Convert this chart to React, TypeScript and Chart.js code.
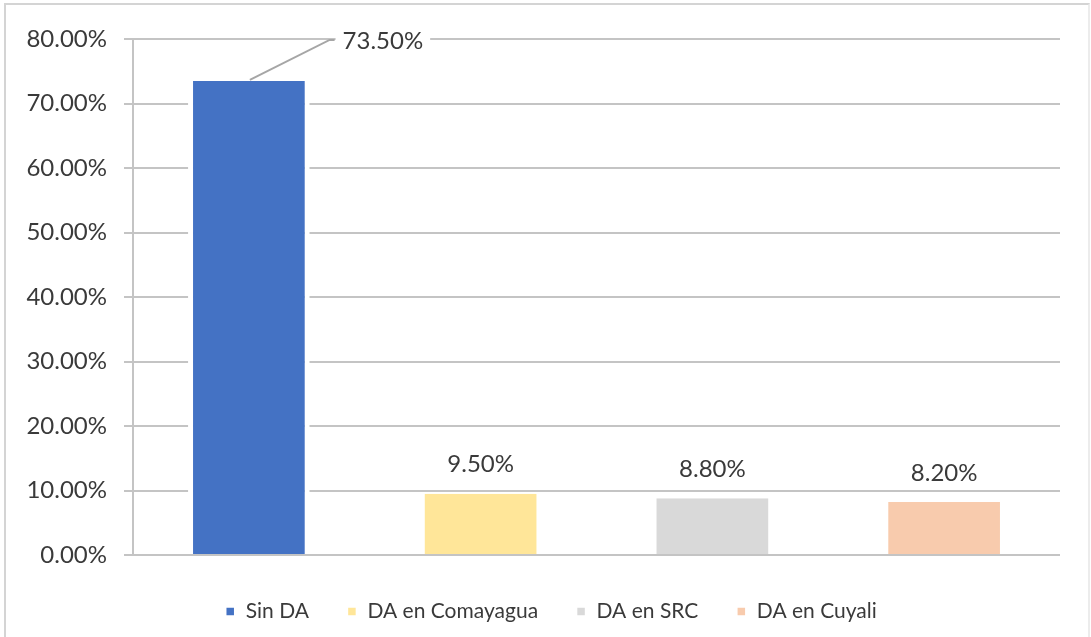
import React, { useEffect, useRef } from 'react';
import { Chart, registerables } from 'chart.js';

Chart.register(...registerables);

const categories = ['Sin DA', 'DA en Comayagua', 'DA en SRC', 'DA en Cuyali'];
const values = [73.5, 9.5, 8.8, 8.2];
const colors = ['#4472C4', '#FFE699', '#D9D9D9', '#F8CBAD'];
const yMin = 0;
const yMax = 80;
const yStep = 10;

const FONT = 'Lato, "Open Sans", sans-serif';
const TEXT = '#3a3a3a';
const GRID = '#c4c4c4';
const LEGEND_SHIFT = 21;

const labelOffsets = [
  { dx: 134, dy: -41, leader: true },
  { dx: 0, dy: -30, leader: false },
  { dx: 0, dy: -30, leader: false },
  { dx: 0, dy: -30, leader: false },
];

const valueLabelPlugin = {
  id: 'valueLabels',
  afterDatasetsDraw(chart: any) {
    const ctx = chart.ctx;
    ctx.save();
    ctx.font = `24px ${FONT}`;
    ctx.textAlign = 'center';
    ctx.textBaseline = 'middle';
    chart.data.datasets.forEach((_ds: any, i: number) => {
      const meta = chart.getDatasetMeta(i);
      const el = meta.data[i];
      if (!el) return;
      const text = `${values[i].toFixed(2)}%`;
      const off = labelOffsets[i];
      const cx = el.x + off.dx;
      const cy = el.y + off.dy;
      const w = ctx.measureText(text).width;
      if (off.leader) {
        ctx.strokeStyle = '#a6a6a6';
        ctx.lineWidth = 2;
        ctx.beginPath();
        ctx.moveTo(el.x + 1, el.y - 1);
        ctx.lineTo(cx - w / 2 - 13, cy);
        ctx.lineTo(cx - w / 2 - 8, cy);
        ctx.stroke();
      }
      ctx.fillStyle = '#ffffff';
      ctx.fillRect(cx - w / 2 - 7, cy - 13, w + 14, 26);
      ctx.fillStyle = TEXT;
      ctx.fillText(text, cx, cy + 1);
    });
    ctx.restore();
  },
};

const legendShiftPlugin = {
  id: 'legendShift',
  afterLayout(chart: any) {
    if (chart.legend) {
      chart.legend.left += LEGEND_SHIFT;
      chart.legend.right += LEGEND_SHIFT;
    }
  },
};

export default function App() {
  const ref = useRef<HTMLCanvasElement | null>(null);

  useEffect(() => {
    if (!ref.current) return;
    const chart = new Chart(ref.current, {
      type: 'bar',
      data: {
        labels: categories,
        datasets: categories.map((name, i) => ({
          label: name,
          data: values.map((v, j) => (j === i ? v : null)),
          backgroundColor: colors[i],
          borderColor: '#ffffff',
          borderWidth: { left: 5, right: 5, top: 0, bottom: 0 },
          borderSkipped: false,
          skipNull: true,
          categoryPercentage: 1,
          barPercentage: 0.525,
        })),
      },
      options: {
        responsive: false,
        animation: false,
        layout: { padding: { left: 0, right: 31, top: 39, bottom: 5 } },
        plugins: {
          tooltip: { enabled: false },
          legend: {
            position: 'bottom',
            labels: {
              boxWidth: 10,
              boxHeight: 10,
              padding: 38,
              color: TEXT,
              font: { family: FONT, size: 21 },
            },
          },
        },
        scales: {
          x: {
            grid: { display: false },
            border: { display: false },
            ticks: { display: false },
            afterFit: (s: any) => {
              s.height = 8;
            },
          },
          y: {
            min: yMin,
            max: yMax,
            afterFit: (s: any) => {
              s.width = 133;
            },
            ticks: {
              stepSize: yStep,
              padding: 17,
              color: TEXT,
              font: { family: FONT, size: 24 },
              callback: (v: any) => `${Number(v).toFixed(2)}%`,
            },
            grid: {
              color: GRID,
              lineWidth: 2,
              tickLength: 9,
            },
            border: { display: true, color: GRID, width: 2 },
          },
        },
      },
      plugins: [valueLabelPlugin, legendShiftPlugin],
    } as any);
    return () => chart.destroy();
  }, []);

  return (
    <div
      style={{
        position: 'absolute',
        left: 0,
        top: 0,
        width: 1091,
        height: 637,
        background: '#ffffff',
        overflow: 'hidden',
      }}
    >
      <div
        style={{
          position: 'absolute',
          left: 4,
          top: 3,
          width: 1082,
          height: 650,
          borderTop: '2px solid #d4d4d4',
          borderLeft: '2px solid #d4d4d4',
          borderRight: '2px solid #ececec',
        }}
      />
      <canvas
        ref={ref}
        width={1091}
        height={637}
        style={{ position: 'absolute', left: 0, top: 0 }}
      />
    </div>
  );
}
